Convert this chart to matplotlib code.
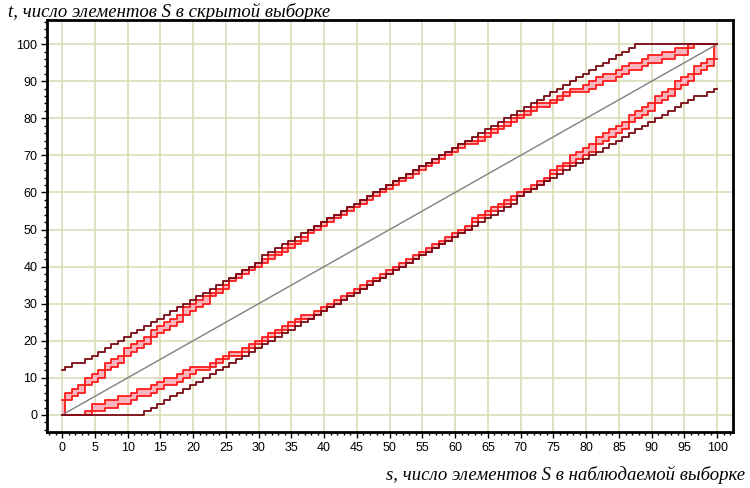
import numpy as np
import matplotlib.pyplot as plt
from matplotlib.ticker import MultipleLocator

# s = число элементов S в наблюдаемой выборке
s = np.arange(0, 101)

# внешние границы (тёмно-красные)
upper_outer = [12, 13, 14, 14, 15, 16, 17, 18, 19, 20,
               21, 22, 23, 24, 25, 26, 27, 28, 29, 30,
               31, 32, 33, 34, 35, 36, 37, 38, 39, 40,
               41, 43, 44, 45, 46, 47, 48, 49, 50, 51,
               52, 53, 54, 55, 56, 57, 58, 59, 60, 61,
               62, 63, 64, 65, 66, 67, 68, 69, 70, 71,
               72, 73, 74, 75, 76, 77, 78, 79, 80, 81,
               82, 83, 84, 85, 86, 87, 88, 89, 90, 91,
               92, 93, 94, 95, 96, 97, 98, 99, 100, 100,
               100, 100, 100, 100, 100, 100, 100, 100, 100, 100, 100]
lower_outer = [0, 0, 0, 0, 0, 0, 0, 0, 0, 0,
               0, 0, 0, 1, 2, 3, 4, 5, 6, 7,
               8, 9, 10, 11, 12, 13, 14, 15, 16, 17,
               18, 19, 20, 21, 22, 23, 24, 25, 26, 27,
               28, 29, 30, 31, 32, 33, 34, 35, 36, 37,
               38, 39, 40, 41, 42, 43, 44, 45, 46, 47,
               48, 49, 50, 51, 52, 53, 54, 55, 56, 57,
               59, 60, 61, 62, 63, 64, 65, 66, 67, 68,
               69, 70, 71, 72, 73, 74, 75, 76, 77, 78,
               79, 80, 81, 82, 83, 84, 85, 86, 86, 87, 88]

# верхняя пара красных границ
upper_hi = [4, 6, 7, 8, 10, 11, 12, 14, 15, 16,
            18, 19, 20, 21, 23, 24, 25, 26, 27, 29,
            30, 31, 32, 33, 34, 35, 37, 38, 39, 40,
            41, 42, 43, 44, 45, 46, 47, 48, 50, 51,
            52, 53, 54, 55, 56, 57, 58, 59, 60, 61,
            62, 63, 64, 65, 66, 67, 68, 69, 70, 71,
            72, 73, 74, 74, 75, 76, 77, 78, 79, 80,
            81, 82, 83, 84, 84, 85, 86, 87, 88, 88,
            89, 90, 91, 92, 92, 93, 94, 95, 95, 96,
            97, 97, 98, 98, 99, 99, 100, 100, 100, 100, 100]
upper_lo = [0, 4, 5, 6, 8, 9, 10, 12, 13, 14,
            16, 17, 18, 19, 21, 22, 23, 24, 25, 27,
            28, 29, 30, 32, 33, 34, 36, 37, 38, 39,
            40, 41, 42, 43, 44, 45, 46, 47, 49, 50,
            51, 52, 53, 54, 55, 56, 57, 58, 59, 60,
            61, 62, 63, 64, 65, 66, 67, 68, 69, 70,
            71, 72, 73, 73, 74, 75, 76, 77, 78, 79,
            80, 81, 82, 83, 83, 84, 85, 86, 87, 87,
            87, 88, 89, 90, 90, 91, 92, 93, 93, 94,
            95, 95, 96, 96, 97, 97, 99, 100, 100, 100, 100]

# нижняя пара красных границ
lower_hi = [0, 0, 0, 0, 1, 3, 3, 4, 4, 5,
            5, 6, 7, 7, 8, 9, 10, 10, 11, 12,
            13, 13, 13, 14, 15, 16, 17, 17, 18, 19,
            20, 21, 22, 23, 24, 25, 26, 27, 27, 28,
            29, 30, 31, 32, 33, 34, 35, 36, 37, 38,
            39, 40, 41, 42, 43, 44, 45, 46, 47, 48,
            49, 50, 51, 53, 54, 55, 56, 57, 58, 59,
            60, 61, 62, 63, 64, 66, 67, 68, 70, 71,
            72, 73, 75, 76, 77, 78, 79, 81, 82, 83,
            84, 86, 87, 88, 90, 91, 92, 94, 95, 96, 100]
lower_lo = [0, 0, 0, 0, 0, 1, 1, 2, 2, 3,
            3, 4, 5, 5, 6, 7, 8, 8, 9, 10,
            11, 12, 12, 13, 14, 15, 16, 16, 17, 18,
            19, 20, 21, 22, 23, 24, 25, 26, 26, 27,
            28, 29, 30, 31, 32, 33, 34, 35, 36, 37,
            38, 39, 40, 41, 42, 43, 44, 45, 46, 47,
            48, 49, 50, 52, 53, 54, 55, 56, 57, 58,
            59, 60, 61, 62, 63, 65, 66, 67, 68, 69,
            70, 71, 73, 74, 75, 76, 77, 79, 80, 81,
            82, 84, 85, 86, 88, 89, 90, 92, 93, 94, 96]

diag_s = [0, 100]
diag_t = [0, 100]

MAROON = "#7a0a14"
RED = "#ff1a1a"
PINK = "#f7b6bd"
GRID = "#dcdcb8"

plt.rcParams["font.family"] = ["Liberation Sans", "DejaVu Sans"]
fig = plt.figure(figsize=(7.5, 4.88), dpi=100)
ax = fig.add_axes([0.0627, 0.1148, 0.9146, 0.8442])

for lo, hi in [(upper_lo, upper_hi), (lower_lo, lower_hi)]:
    ax.fill_between(s, lo, hi, step="mid", color=PINK, lw=0, zorder=2)
    ax.step(s, lo, where="mid", color=RED, lw=1.3, zorder=3)
    ax.step(s, hi, where="mid", color=RED, lw=1.3, zorder=3)

ax.plot(diag_s, diag_t, color="#808080", lw=1.0, zorder=3)
ax.step(s, upper_outer, where="mid", color=MAROON, lw=1.3, zorder=4)
ax.step(s, lower_outer, where="mid", color=MAROON, lw=1.3, zorder=4)

ax.set_xlim(-2.3, 102.4)
ax.set_ylim(-4.6, 106.5)
ax.xaxis.set_major_locator(MultipleLocator(5))
ax.xaxis.set_minor_locator(MultipleLocator(1))
ax.yaxis.set_major_locator(MultipleLocator(10))
ax.yaxis.set_minor_locator(MultipleLocator(2))
ax.grid(which="major", color=GRID, lw=1.2, zorder=0)
ax.set_axisbelow(True)
ax.tick_params(which="major", direction="out", length=4, width=1, labelsize=9, pad=3)
ax.tick_params(which="minor", direction="out", length=2, width=1)
for sp in ax.spines.values():
    sp.set_linewidth(2)
    sp.set_color("black")

fig.text(0.011, 0.975, "t, число элементов S в скрытой выборке", fontsize=13.5,
         family="Liberation Serif", style="italic", ha="left", va="center")
fig.text(0.993, 0.027, "s, число элементов S в наблюдаемой выборке", fontsize=13.5,
         family="Liberation Serif", style="italic", ha="right", va="center")

fig.savefig("out.png", dpi=100)
